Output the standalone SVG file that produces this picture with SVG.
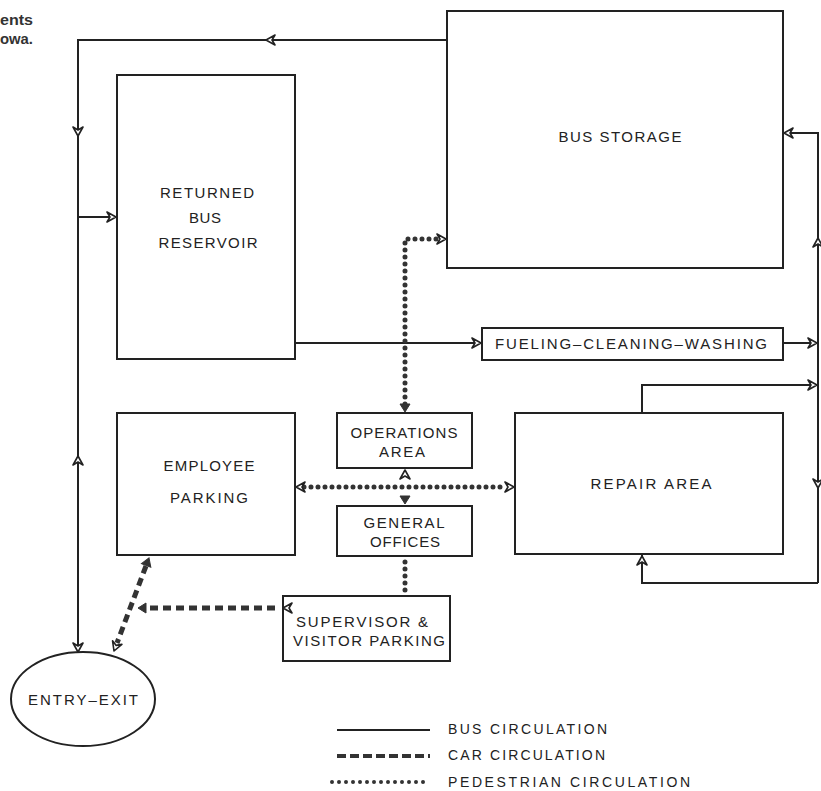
<svg xmlns="http://www.w3.org/2000/svg" width="821" height="791" viewBox="0 0 821 791">
<style>
.box{fill:none;stroke:#222;stroke-width:2}
.bus{fill:none;stroke:#222;stroke-width:2}
.car{fill:none;stroke:#333;stroke-width:5;stroke-dasharray:8 5}
.ped{fill:none;stroke:#333;stroke-width:5;stroke-linecap:round;stroke-dasharray:0 7}
.t{font-family:"Liberation Sans",Arial,sans-serif;font-size:15px;fill:#222;text-anchor:middle}
.lg{font-family:"Liberation Sans",Arial,sans-serif;font-size:14px;fill:#222}
.hd{font-family:"Liberation Sans",Arial,sans-serif;font-size:15px;font-weight:bold;fill:#333}
</style>
<defs>
<path id="ah" d="M-9,-5 L0,0 L-9,5 L-6,0 Z" fill="#fff" stroke="#222" stroke-width="1.6" stroke-linejoin="round"/>
<path id="af" d="M-8,-5 L0,0 L-8,5 Z" fill="#333" stroke="#333" stroke-width="1"/>
</defs>
<rect width="821" height="791" fill="#fff"/>
<text class="hd" x="0" y="25" textLength="33" lengthAdjust="spacingAndGlyphs">ents</text>
<text class="hd" x="0" y="44" textLength="33" lengthAdjust="spacingAndGlyphs">owa.</text>

<g id="connectors">
<!-- bus circulation -->
<path class="bus" d="M447,40 H78 V652"/>
<use href="#ah" transform="translate(266,40) rotate(180)"/>
<use href="#ah" transform="translate(78,136) rotate(90)"/>
<use href="#ah" transform="translate(78,456) rotate(-90)"/>
<use href="#ah" transform="translate(78,652) rotate(90)"/>
<path class="bus" d="M78,217 H117"/>
<use href="#ah" transform="translate(116,217)"/>
<path class="bus" d="M295,343 H482"/>
<use href="#ah" transform="translate(481,343)"/>
<path class="bus" d="M783,343 H818"/>
<use href="#ah" transform="translate(817,343)"/>
<path class="bus" d="M642,413 V385 H818"/>
<use href="#ah" transform="translate(817,385)"/>
<path class="bus" d="M818,583 V133 H783"/>
<use href="#ah" transform="translate(784,133) rotate(180)"/>
<use href="#ah" transform="translate(818,238) rotate(-90)"/>
<use href="#ah" transform="translate(818,488) rotate(90)"/>
<path class="bus" d="M818,583 H642 V555"/>
<use href="#ah" transform="translate(642,556) rotate(-90)"/>
<!-- pedestrian -->
<path class="ped" d="M405,404 V239 H438"/>
<use href="#ah" transform="translate(446,239)"/>
<use href="#af" transform="translate(405,412) rotate(90)"/>
<path class="ped" d="M304,487 H506"/>
<use href="#ah" transform="translate(296,487) rotate(180)"/>
<use href="#ah" transform="translate(514,487)"/>
<use href="#ah" transform="translate(405,470) rotate(-90)"/>
<use href="#af" transform="translate(405,504) rotate(90)"/>
<path class="ped" d="M405,562 V594"/>
<!-- car -->
<path class="car" d="M275,608 H146"/>
<use href="#ah" transform="translate(283,608) rotate(180)"/>
<use href="#af" transform="translate(138,608) rotate(180)"/>
<path class="car" d="M146,566 L117,643"/>
<use href="#af" transform="translate(149,558) rotate(-69)"/>
<use href="#ah" transform="translate(114,651) rotate(111)"/>
</g>

<g id="bus-storage"><rect class="box" x="447" y="11" width="336" height="257"/><text class="t" x="620" y="142" textLength="123">BUS STORAGE</text></g>
<g id="returned-bus-reservoir"><rect class="box" x="117" y="75" width="178" height="284"/>
<text class="t" x="207" y="198" textLength="94">RETURNED</text><text class="t" x="205" y="223" textLength="32">BUS</text><text class="t" x="208" y="248" textLength="99">RESERVOIR</text></g>
<g id="fueling"><rect class="box" x="482" y="328" width="301" height="32"/><text class="t" x="631" y="349" textLength="272">FUELING–CLEANING–WASHING</text></g>
<g id="operations-area"><rect class="box" x="337" y="413" width="135" height="55"/><text class="t" x="404" y="438" textLength="107">OPERATIONS</text><text class="t" x="402" y="457" textLength="46">AREA</text></g>
<g id="general-offices"><rect class="box" x="337" y="506" width="135" height="50"/><text class="t" x="404" y="528" textLength="81">GENERAL</text><text class="t" x="405" y="547" textLength="70">OFFICES</text></g>
<g id="employee-parking"><rect class="box" x="117" y="413" width="178" height="142"/><text class="t" x="209" y="471" textLength="91">EMPLOYEE</text><text class="t" x="209" y="503" textLength="78">PARKING</text></g>
<g id="repair-area"><rect class="box" x="515" y="413" width="268" height="141"/><text class="t" x="651" y="489" textLength="121">REPAIR AREA</text></g>
<g id="supervisor-parking"><rect class="box" x="283" y="596" width="167" height="65"/><text class="t" x="362" y="627" textLength="132">SUPERVISOR &amp;</text><text class="t" x="369" y="646" textLength="152">VISITOR PARKING</text></g>
<g id="entry-exit"><ellipse cx="83" cy="699" rx="72" ry="47" fill="none" stroke="#222" stroke-width="2"/><text class="t" x="83" y="705" textLength="110">ENTRY–EXIT</text></g>

<g id="legend">
<line class="bus" x1="337" y1="730" x2="430" y2="730"/>
<text class="lg" x="448" y="734" textLength="159">BUS CIRCULATION</text>
<line class="car" x1="337" y1="756" x2="430" y2="756" style="stroke-width:4;stroke-dasharray:9 4"/>
<text class="lg" x="448" y="760" textLength="157">CAR CIRCULATION</text>
<line class="ped" x1="332" y1="782" x2="430" y2="782" style="stroke-width:4;stroke-dasharray:0 7"/>
<text class="lg" x="448" y="787" textLength="242">PEDESTRIAN CIRCULATION</text>
</g>
</svg>
